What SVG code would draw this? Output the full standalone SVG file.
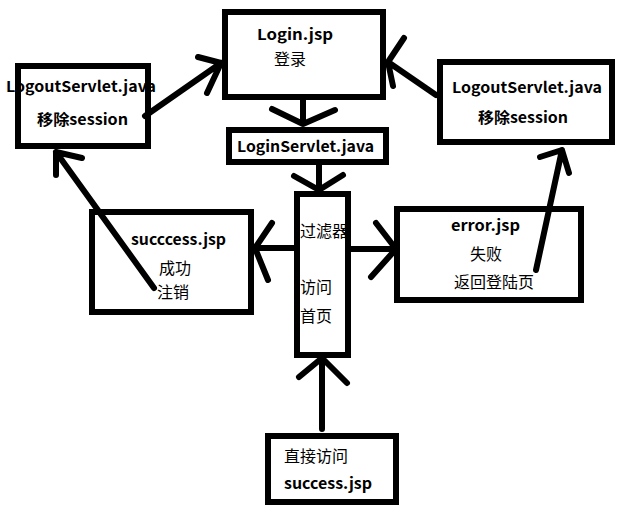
<svg xmlns="http://www.w3.org/2000/svg" width="630" height="517" viewBox="0 0 630 517">
<style>
.box{fill:#fff;stroke:#000;stroke-width:6}
.ln{fill:none;stroke:#000;stroke-width:6;stroke-linecap:round;stroke-linejoin:round}
.t{font-family:"Noto Sans CJK SC","Noto Sans",sans-serif;font-size:16px;fill:#000}
.b{font-weight:bold;font-size:15px}
</style>
<rect width="630" height="517" fill="#fff"/>
<g id="login"><rect class="box" x="225" y="12" width="158" height="85"/>
<text class="t b" x="257" y="40" textLength="76" lengthAdjust="spacingAndGlyphs">Login.jsp</text>
<text class="t" x="274" y="65">登录</text></g>
<g id="logoutLeft"><rect class="box" x="18" y="66" width="130" height="80"/>
<text class="t b" x="6" y="92" textLength="150" lengthAdjust="spacingAndGlyphs">LogoutServlet.java</text>
<text class="t b" x="37" y="125" textLength="91" lengthAdjust="spacingAndGlyphs">移除session</text></g>
<g id="logoutRight"><rect class="box" x="440" y="62" width="172" height="80"/>
<text class="t b" x="452" y="93" textLength="150" lengthAdjust="spacingAndGlyphs">LogoutServlet.java</text>
<text class="t b" x="478" y="123" textLength="90" lengthAdjust="spacingAndGlyphs">移除session</text></g>
<g id="loginServlet"><rect class="box" x="229" y="130" width="157" height="32"/>
<text class="t b" x="237" y="152" textLength="137" lengthAdjust="spacingAndGlyphs">LoginServlet.java</text></g>
<g id="filter"><rect class="box" x="297" y="194" width="51" height="161"/>
<text class="t" x="300" y="237">过滤器</text>
<text class="t" x="300" y="293">访问</text>
<text class="t" x="300" y="322">首页</text></g>
<g id="success"><rect class="box" x="92" y="212" width="159" height="100"/>
<text class="t b" x="131" y="245" textLength="95" lengthAdjust="spacingAndGlyphs">succcess.jsp</text>
<text class="t" x="159" y="274">成功</text>
<text class="t" x="157" y="298">注销</text></g>
<g id="error"><rect class="box" x="397" y="209" width="184" height="91"/>
<text class="t b" x="451" y="231" textLength="69" lengthAdjust="spacingAndGlyphs">error.jsp</text>
<text class="t" x="470" y="260">失败</text>
<text class="t" x="454" y="288">返回登陆页</text></g>
<g id="direct"><rect class="box" x="268" y="436" width="128" height="66"/>
<text class="t" x="284" y="462">直接访问</text>
<text class="t b" x="284" y="489" textLength="88" lengthAdjust="spacingAndGlyphs">success.jsp</text></g>
<g id="connectors">
<path class="ln" d="M303 98V124M272 109L303 124L335 110"/>
<path class="ln" d="M319 163V190M294 176L319 190L343 175"/>
<path class="ln" d="M145 116L221 63M198 57L221 63L207 93"/>
<path class="ln" d="M436 95L388 62M404 38L388 62L393 86"/>
<path class="ln" d="M295 248H255M272 223L255 248L268 280"/>
<path class="ln" d="M350 249H396M376 223L396 249L371 277"/>
<path class="ln" d="M322 429V358M299 377L322 358L347 383"/>
<path class="ln" d="M154 288L56 152M82 158L56 152L56 175"/>
<path class="ln" d="M536 270L562 150M540 157L562 150L569 173"/>
</g>
</svg>
